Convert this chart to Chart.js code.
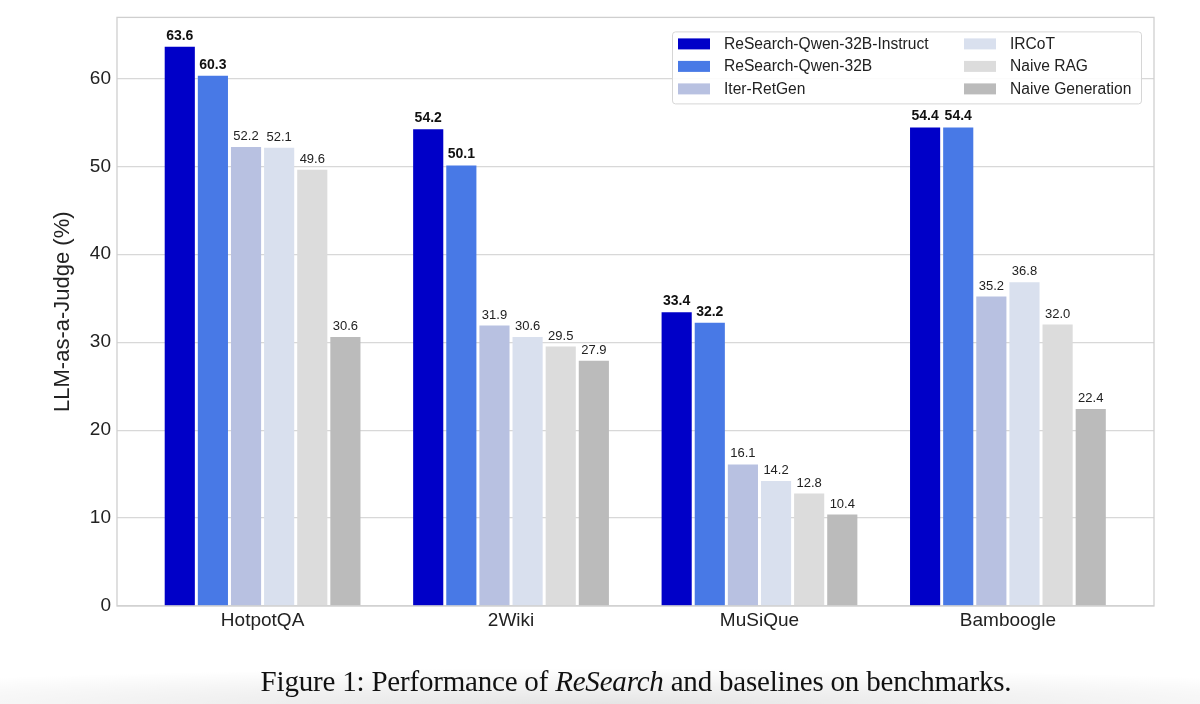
<!DOCTYPE html>
<html>
<head>
<meta charset="utf-8">
<script src="https://cdn.jsdelivr.net/npm/chart.js@4/dist/chart.umd.min.js"></script>
<style>
  html, body { margin: 0; padding: 0; background: #fff; }
  #wrap { position: relative; width: 1200px; height: 704px; overflow: hidden; }
  #shade { position: absolute; left: 0; right: 0; bottom: 0; height: 36px;
    background: radial-gradient(ellipse 75% 100% at 50% 100%, rgba(0,0,0,0.10), rgba(0,0,0,0) 100%); }
  canvas { position: absolute; left: 0; top: 0; }
  #caption { position: absolute; left: 0; width: 1272px; top: 665px; text-align: center;
    font-family: "Liberation Serif", "Times New Roman", serif; font-size: 29px; color: #111; letter-spacing: -0.2px; }
</style>
</head>
<body>
<div id="wrap">
  <div id="shade"></div>
  <canvas id="c" width="1200" height="704"></canvas>
  <div id="caption">Figure 1: Performance of <i>ReSearch</i> and baselines on benchmarks.</div>
</div>
<script>
const categories = ["HotpotQA", "2Wiki", "MuSiQue", "Bamboogle"];
const seriesNames = ["ReSearch-Qwen-32B-Instruct", "ReSearch-Qwen-32B", "Iter-RetGen", "IRCoT", "Naive RAG", "Naive Generation"];
const instructVals = [63.6, 54.2, 33.4, 54.4];
const qwenVals = [60.3, 50.1, 32.2, 54.4];
const iterRetGenVals = [52.2, 31.9, 16.1, 35.2];
const ircotVals = [52.1, 30.6, 14.2, 36.8];
const naiveRagVals = [49.6, 29.5, 12.8, 32.0];
const naiveGenVals = [30.6, 27.9, 10.4, 22.4];
const yTicks = [0, 10, 20, 30, 40, 50, 60];

const seriesValues = [instructVals, qwenVals, iterRetGenVals, ircotVals, naiveRagVals, naiveGenVals];
const colors = ["#0000c8", "#4879e6", "#b8c1e1", "#d9e0ee", "#dcdcdc", "#bbbbbb"];
const boldSeries = [true, true, false, false, false, false];

const datasets = seriesNames.map((name, i) => ({
  label: name,
  data: seriesValues[i].map((v, j) => ({ x: j, y: v })),
  backgroundColor: colors[i],
  borderWidth: 0,
  categoryPercentage: 0.8,
  barPercentage: 0.91
}));

const framePlugin = {
  id: 'frame',
  afterDraw(chart) {
    const { ctx, chartArea: a } = chart;
    ctx.save();
    ctx.strokeStyle = '#cfcfcf';
    ctx.lineWidth = 1.3;
    ctx.strokeRect(a.left, a.top, a.right - a.left, a.bottom - a.top);
    ctx.restore();
  }
};

const labelPlugin = {
  id: 'valueLabels',
  afterDatasetsDraw(chart) {
    const { ctx } = chart;
    ctx.save();
    ctx.textAlign = 'center';
    ctx.textBaseline = 'bottom';
    chart.data.datasets.forEach((ds, i) => {
      const meta = chart.getDatasetMeta(i);
      meta.data.forEach((bar, j) => {
        const v = ds.data[j].y;
        ctx.fillStyle = boldSeries[i] ? '#111' : '#222';
        ctx.font = (boldSeries[i] ? 'bold 14px' : '13px') + ' "Liberation Sans", Arial, sans-serif';
        ctx.fillText(v.toFixed(1), bar.x, bar.y - 4);
      });
    });
    ctx.restore();
  }
};

const legendPlugin = {
  id: 'customLegend',
  afterDraw(chart) {
    const { ctx } = chart;
    const a = chart.chartArea;
    const boxL = a.right - 482, boxT = a.top + 14, boxW = 469, boxH = 72;
    ctx.save();
    ctx.fillStyle = 'rgba(255,255,255,0.9)';
    ctx.strokeStyle = '#d6d6d6';
    ctx.lineWidth = 1;
    ctx.beginPath();
    if (ctx.roundRect) ctx.roundRect(boxL + 0.5, boxT + 0.5, boxW, boxH, 3); else ctx.rect(boxL + 0.5, boxT + 0.5, boxW, boxH);
    ctx.fill();
    ctx.stroke();
    ctx.font = '15.6px "Liberation Sans", Arial, sans-serif';
    ctx.textBaseline = 'middle';
    ctx.textAlign = 'left';
    seriesNames.forEach((name, i) => {
      const col = Math.floor(i / 3), row = i % 3;
      const x = boxL + 6 + col * 286;
      const y = boxT + 12 + row * 22.5;
      ctx.fillStyle = colors[i];
      ctx.fillRect(x, y - 5, 32, 11);
      ctx.fillStyle = '#222';
      ctx.fillText(name, x + 46, y + 1);
    });
    ctx.restore();
  }
};

new Chart(document.getElementById('c'), {
  type: 'bar',
  data: { datasets },
  plugins: [framePlugin, labelPlugin, legendPlugin],
  options: {
    responsive: false,
    animation: false,
    layout: { padding: { left: 0, top: 17, right: 46, bottom: 0 } },
    plugins: { legend: { display: false }, tooltip: { enabled: false } },
    scales: {
      x: {
        type: 'linear',
        min: -0.586,
        max: 3.588,
        offset: false,
        afterBuildTicks: (s) => { s.ticks = categories.map((c, i) => ({ value: i })); },
        afterFit: (s) => { s.height = 98; },
        grid: { display: false, drawTicks: false },
        border: { display: false },
        ticks: {
          padding: 3,
          autoSkip: false,
          maxRotation: 0,
          color: '#222',
          font: { family: '"Liberation Sans", Arial, sans-serif', size: 19 },
          callback: (v) => categories[v] !== undefined ? categories[v] : ''
        }
      },
      y: {
        min: 0,
        max: 66.93,
        afterBuildTicks: (s) => { s.ticks = yTicks.map(v => ({ value: v })); },
        afterFit: (s) => { s.width = 117; },
        grid: { color: '#d8d8d8', lineWidth: 1.2, drawTicks: false },
        border: { display: false },
        ticks: {
          padding: 6,
          color: '#222',
          font: { family: '"Liberation Sans", Arial, sans-serif', size: 19 }
        },
        title: {
          display: true,
          text: 'LLM-as-a-Judge (%)',
          color: '#222',
          padding: { top: 50, bottom: 14 },
          font: { family: '"Liberation Sans", Arial, sans-serif', size: 22 }
        }
      }
    }
  }
});
</script>
</body>
</html>
